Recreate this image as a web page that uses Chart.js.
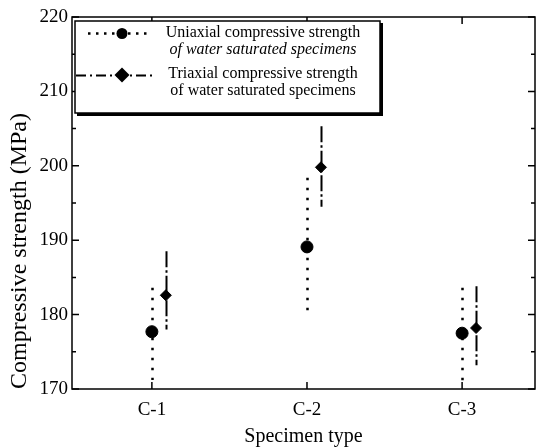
<!DOCTYPE html>
<html><head><meta charset="utf-8">
<script src="https://cdn.jsdelivr.net/npm/chart.js@4/dist/chart.umd.min.js"></script>
<style>html,body{margin:0;padding:0;background:#fff;overflow:hidden}#wrap{width:537px;height:447px}canvas{display:block}</style>
</head><body><div id="wrap"><canvas id="c" width="537" height="447"></canvas></div>
<script>
// ---- data ----
const categories = ['C-1', 'C-2', 'C-3'];
const yTickValues = [170, 180, 190, 200, 210, 220];
const uniaxialMean = [177.7, 189.1, 177.5];
const uniaxialHigh = [183.6, 198.4, 183.6];
const uniaxialLow  = [171.2, 180.4, 170.8];
const triaxialMean = [182.6, 199.8, 178.2];
const triaxialHigh = [188.5, 205.3, 183.8];
const triaxialLow  = [178.0, 194.5, 173.2];
const uniaxialLabel = ['Uniaxial compressive strength', 'of water saturated specimens'];
const triaxialLabel = ['Triaxial compressive strength', 'of water saturated specimens'];
const xTitle = 'Specimen type';
const yTitle = 'Compressive strength (MPa)';

// ---- style ----
const FONT = "'Liberation Serif','Times New Roman',serif";
const TRI_SHIFT = 0.09;
const UNI_DASH = [2.5, 7.5];
const TRI_DASH = [16, 3, 2.5, 3];

const pts = (arr, shift) => arr.map((v, i) => ({x: i + 1 + shift, y: v}));

const datasets = [
  {label: uniaxialLabel.join(' '), lines: uniaxialLabel, italic2: true, data: pts(uniaxialMean, 0),
   hi: uniaxialHigh, lo: uniaxialLow, shift: 0, dash: UNI_DASH, lw: 2.5,
   pointStyle: 'circle', pointRadius: 6, backgroundColor: '#000', borderColor: '#000', showLine: false},
  {label: triaxialLabel.join(' '), lines: triaxialLabel, italic2: false, data: pts(triaxialMean, TRI_SHIFT),
   hi: triaxialHigh, lo: triaxialLow, shift: TRI_SHIFT, dash: TRI_DASH, lw: 2,
   pointStyle: 'rectRot', pointRadius: 5.5, backgroundColor: '#000', borderColor: '#000', showLine: false}
];

const framePlugin = {
  id: 'frame',
  beforeDatasetsDraw(chart) {
    const ctx = chart.ctx, xs = chart.scales.x, ys = chart.scales.y;
    ctx.save();
    ctx.strokeStyle = '#000';
    chart.data.datasets.forEach(ds => {
      ctx.lineWidth = ds.lw;
      ctx.setLineDash(ds.dash);
      ds.hi.forEach((h, i) => {
        const x = Math.round(xs.getPixelForValue(i + 1 + ds.shift)) + 0.5;
        ctx.beginPath();
        ctx.moveTo(x, ys.getPixelForValue(h));
        ctx.lineTo(x, ys.getPixelForValue(ds.lo[i]));
        ctx.stroke();
      });
    });
    ctx.restore();
  },
  afterDraw(chart) {
    const ctx = chart.ctx, xs = chart.scales.x, ys = chart.scales.y;
    const a = chart.chartArea;
    ctx.save();
    ctx.strokeStyle = '#000';
    ctx.lineWidth = 1.5;
    ctx.setLineDash([]);
    ctx.strokeRect(a.left, a.top, a.right - a.left, a.bottom - a.top);
    for (let v = ys.min; v <= ys.max; v += 5) {
      const y = ys.getPixelForValue(v);
      const len = (v % 10 === 0) ? 7 : 4;
      ctx.beginPath();
      ctx.moveTo(a.left, y); ctx.lineTo(a.left + len, y);
      ctx.moveTo(a.right, y); ctx.lineTo(a.right - len, y);
      ctx.stroke();
    }
    categories.forEach((c, i) => {
      const x = xs.getPixelForValue(i + 1);
      ctx.beginPath();
      ctx.moveTo(x, a.bottom); ctx.lineTo(x, a.bottom - 7);
      ctx.moveTo(x, a.top); ctx.lineTo(x, a.top + 7);
      ctx.stroke();
    });
    // legend
    const L = {l: 75, t: 21, r: 380, b: 113};
    ctx.fillStyle = '#fff';
    ctx.fillRect(L.l, L.t, L.r - L.l, L.b - L.t);
    ctx.lineWidth = 1.5;
    ctx.strokeRect(L.l, L.t, L.r - L.l, L.b - L.t);
    ctx.fillStyle = '#000';
    ctx.fillRect(L.l + 2, L.b, L.r - L.l + 1, 3);
    ctx.fillRect(L.r, L.t + 2, 3, L.b - L.t + 1);
    const rows = [{y: 33, ty: [33, 50], x0: 88, x1: 150, r: 5.5}, {y: 75, ty: [74, 91], x0: 76, x1: 153, r: 7.5}];
    chart.data.datasets.forEach((ds, k) => {
      const row = rows[k];
      ctx.lineWidth = ds.lw;
      ctx.setLineDash(k === 0 ? [2.5, 5.5] : [10, 4, 2, 4]);
      ctx.beginPath(); ctx.moveTo(row.x0, row.y + 0.5); ctx.lineTo(row.x1, row.y + 0.5); ctx.stroke();
      ctx.setLineDash([]);
      ctx.beginPath();
      if (ds.pointStyle === 'circle') {
        ctx.arc(122, row.y + 0.5, row.r, 0, Math.PI * 2);
      } else {
        ctx.moveTo(122, row.y - row.r); ctx.lineTo(122 + row.r, row.y);
        ctx.lineTo(122, row.y + row.r); ctx.lineTo(122 - row.r, row.y); ctx.closePath();
      }
      ctx.fill();
      ctx.textAlign = 'center';
      ctx.textBaseline = 'middle';
      ds.lines.forEach((t, j) => {
        ctx.font = ((j === 1 && ds.italic2) ? 'italic ' : '') + '16px ' + FONT;
        ctx.fillText(t, 263, row.ty[j]);
      });
    });
    ctx.restore();
  }
};

new Chart(document.getElementById('c'), {
  type: 'scatter',
  data: {datasets},
  options: {
    responsive: false,
    animation: false,
    events: [],
    layout: {autoPadding: false, padding: {left: 0, right: 2, top: 17, bottom: 0}},
    plugins: {legend: {display: false}, tooltip: {enabled: false}},
    scales: {
      x: {
        type: 'linear', min: 0.485, max: 3.47,
        afterBuildTicks: s => { s.ticks = categories.map((c, i) => ({value: i + 1})); },
        afterFit: s => { s.height = 58; s.paddingLeft = 0; s.paddingRight = 0; },
        grid: {display: false, drawTicks: false},
        border: {display: false},
        ticks: {color: '#000', padding: 10, font: {family: FONT, size: 19}, maxRotation: 0,
                callback: v => categories[v - 1]},
        title: {display: true, text: xTitle, color: '#000', padding: {top: 0, bottom: 0},
                font: {family: FONT, size: 20, lineHeight: 1}}
      },
      y: {
        min: 170, max: 220,
        afterBuildTicks: s => { s.ticks = yTickValues.map(v => ({value: v})); },
        afterFit: s => { s.width = 72; s.paddingTop = 0; s.paddingBottom = 0; },
        grid: {display: false, drawTicks: false},
        border: {display: false},
        ticks: {color: '#000', padding: 4, font: {family: FONT, size: 19}},
        title: {display: true, text: yTitle, color: '#000', align: 'start', padding: {top: 7, bottom: 0},
                font: {family: FONT, size: 24, lineHeight: 1.1}}
      }
    }
  },
  plugins: [framePlugin]
});
</script>
</body></html>
